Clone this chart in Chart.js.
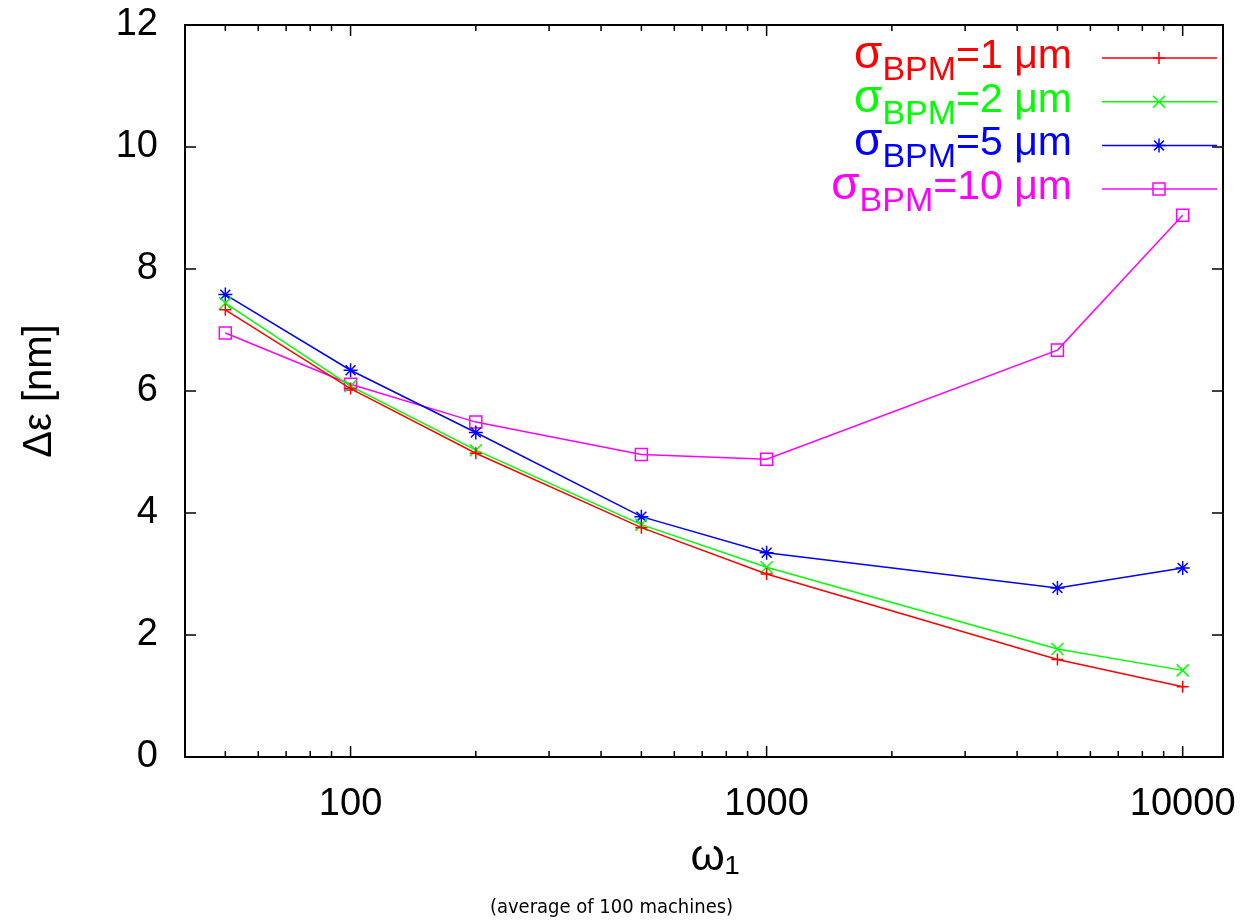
<!DOCTYPE html>
<html>
<head>
<meta charset="utf-8">
<script src="https://cdn.jsdelivr.net/npm/chart.js@4.4.1/dist/chart.umd.min.js"></script>
<style>
  html, body { margin: 0; padding: 0; background: #fff; }
  #wrap { width: 1255px; height: 924px; }
</style>
</head>
<body>
<div id="wrap"><canvas id="chart" width="1255" height="924"></canvas></div>
<script>
// omega_1 values (x, log scale)
const omega = [50, 100, 200, 500, 1000, 5000, 10000];

// emittance growth [nm] for each BPM resolution
const sigmaLabels = ['1', '2', '5', '10'];
const sigma1 = [7.33, 6.04, 4.98, 3.76, 3.00, 1.60, 1.15];
const sigma2 = [7.44, 6.08, 5.03, 3.81, 3.11, 1.77, 1.42];
const sigma5 = [7.58, 6.34, 5.32, 3.94, 3.35, 2.77, 3.10];
const sigma10 = [6.95, 6.11, 5.49, 4.96, 4.88, 6.67, 8.88];

const xMajorTicks = [100, 1000, 10000];
const xMinorTicks = [50, 60, 70, 80, 90, 200, 300, 400, 500, 600, 700, 800, 900,
  2000, 3000, 4000, 5000, 6000, 7000, 8000, 9000];
const yTicks = [0, 2, 4, 6, 8, 10, 12];

const FONT = '"Liberation Sans", Arial, Helvetica, sans-serif';

const toPoints = vals => omega.map((x, i) => ({ x: x, y: vals[i] }));

const makeSet = (vals, color, style, radius) => ({
  data: toPoints(vals),
  borderColor: color,
  backgroundColor: color,
  borderWidth: 1.5,
  pointStyle: style,
  pointRadius: radius,
  pointHoverRadius: radius,
  pointBorderColor: color,
  pointBackgroundColor: 'rgba(0,0,0,0)',
  pointBorderWidth: 1.5,
  tension: 0
});

// labels may hang over the plot edges, so drop the padding chart.js reserves
const noPadding = s => {
  s.paddingTop = 0; s.paddingBottom = 0; s.paddingLeft = 0; s.paddingRight = 0;
};

// gnuplot-like frame with inward ticks on all four sides
const frameTicks = {
  id: 'frameTicks',
  afterDatasetsDraw(chart) {
    const { ctx, chartArea: a, scales: { x, y } } = chart;
    ctx.save();
    ctx.strokeStyle = '#000';
    ctx.lineWidth = 1.5;
    const seg = (x1, y1, x2, y2) => {
      ctx.beginPath(); ctx.moveTo(x1, y1); ctx.lineTo(x2, y2); ctx.stroke();
    };
    xMajorTicks.forEach(v => {
      const px = x.getPixelForValue(v);
      seg(px, a.bottom, px, a.bottom - 11);
      seg(px, a.top, px, a.top + 11);
    });
    xMinorTicks.forEach(v => {
      const px = x.getPixelForValue(v);
      seg(px, a.bottom, px, a.bottom - 6);
      seg(px, a.top, px, a.top + 6);
    });
    yTicks.forEach(v => {
      const py = y.getPixelForValue(v);
      seg(a.left, py, a.left + 11, py);
      seg(a.right, py, a.right - 11, py);
    });
    ctx.lineWidth = 2;
    ctx.strokeRect(a.left, a.top, a.right - a.left, a.bottom - a.top);
    ctx.restore();
  }
};

// key in the top right corner: sigma_BPM=N um with subscript
const sigmaLegend = {
  id: 'sigmaLegend',
  afterDraw(chart) {
    const { ctx, chartArea: a } = chart;
    ctx.save();
    chart.data.datasets.forEach((ds, i) => {
      const yLine = a.top + 33 + i * 43.7;
      const textRight = a.right - 151;
      const main = '=' + sigmaLabels[i] + ' \u03bcm';
      ctx.font = '41px ' + FONT;
      const wMain = ctx.measureText(main).width;
      ctx.font = '34px ' + FONT;
      const wSub = ctx.measureText('BPM').width;
      ctx.font = '46px ' + FONT;
      const wSig = ctx.measureText('\u03c3').width;
      let xx = textRight - wMain - wSub - wSig;
      ctx.fillStyle = ds.borderColor;
      ctx.textAlign = 'left';
      ctx.textBaseline = 'alphabetic';
      ctx.font = '46px ' + FONT;
      ctx.fillText('\u03c3', xx, yLine + 10);
      xx += wSig;
      ctx.font = '34px ' + FONT;
      ctx.fillText('BPM', xx, yLine + 22);
      xx += wSub;
      ctx.font = '41px ' + FONT;
      ctx.fillText(main, xx, yLine + 10);

      ctx.strokeStyle = ds.borderColor;
      ctx.lineWidth = ds.borderWidth;
      ctx.beginPath();
      ctx.moveTo(a.right - 121, yLine);
      ctx.lineTo(a.right - 6, yLine);
      ctx.stroke();
      ctx.fillStyle = 'rgba(0,0,0,0)';
      ctx.lineWidth = ds.pointBorderWidth;
      Chart.helpers.drawPoint(ctx, {
        pointStyle: ds.pointStyle, radius: ds.pointRadius,
        rotation: 0, borderWidth: ds.pointBorderWidth
      }, a.right - 64, yLine);
    });
    ctx.restore();
  }
};

const ctx = document.getElementById('chart').getContext('2d');
new Chart(ctx, {
  type: 'line',
  data: {
    datasets: [
      makeSet(sigma1, '#ff0000', 'cross', 6),
      makeSet(sigma2, '#00ff00', 'crossRot', 8.5),
      makeSet(sigma5, '#0000ff', 'star', 7),
      makeSet(sigma10, '#ff00ff', 'rect', 8.5)
    ]
  },
  options: {
    responsive: false,
    animation: false,
    devicePixelRatio: 1,
    layout: { padding: { top: 25, right: 32, left: 0, bottom: 0 } },
    plugins: {
      legend: { display: false },
      tooltip: { enabled: false },
      title: {
        display: true,
        position: 'bottom',
        text: '(average of 100 machines)',
        color: '#000',
        font: { family: '"DejaVu Sans Condensed", "DejaVu Sans", sans-serif', size: 20, weight: 'normal' },
        padding: { top: 0, bottom: 4 }
      }
    },
    scales: {
      x: {
        type: 'logarithmic',
        min: 40,
        max: 12500,
        bounds: 'data',
        grid: { display: false, drawTicks: false },
        border: { display: false },
        afterBuildTicks: s => { s.ticks = xMajorTicks.map(v => ({ value: v })); },
        afterFit: s => { s.height = 139; noPadding(s); },
        ticks: {
          color: '#000',
          font: { family: FONT, size: 38 },
          padding: 25,
          maxRotation: 0,
          autoSkip: false,
          callback: v => String(v)
        },
        title: {
          display: true,
          text: '\u2002\u03c9\u2081',
          color: '#000',
          font: { family: FONT, size: 44 },
          padding: { top: 0, bottom: 12 }
        }
      },
      y: {
        min: 0,
        max: 12,
        grid: { display: false, drawTicks: false },
        border: { display: false },
        afterFit: s => { s.width = 185; noPadding(s); },
        ticks: {
          stepSize: 2,
          color: '#000',
          font: { family: FONT, size: 38 },
          padding: 27
        },
        title: {
          display: true,
          text: '\u0394\u03b5 [nm]',
          color: '#000',
          font: { family: FONT, size: 40 },
          padding: { top: 16, bottom: 0 }
        }
      }
    }
  },
  plugins: [frameTicks, sigmaLegend]
});
</script>
</body>
</html>
